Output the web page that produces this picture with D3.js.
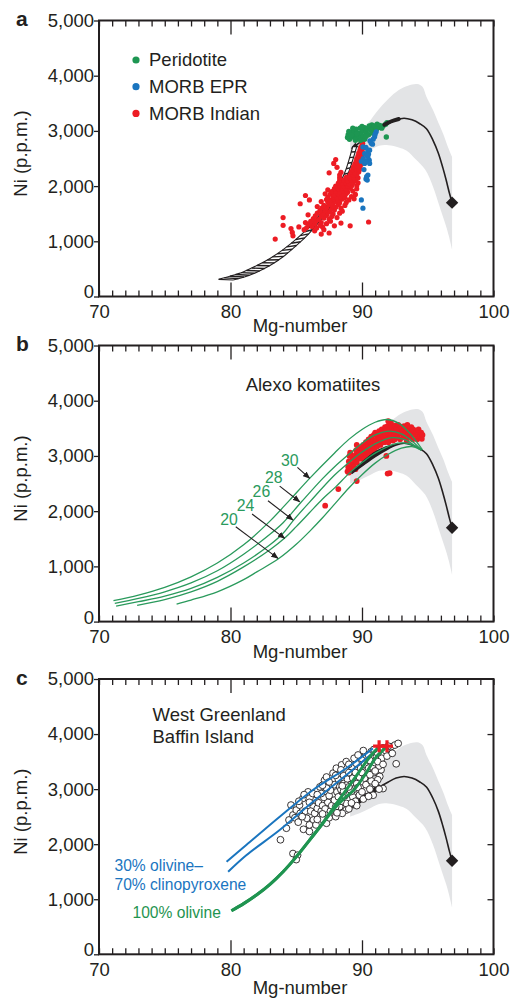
<!DOCTYPE html>
<html>
<head>
<meta charset="utf-8">
<script src="https://cdn.jsdelivr.net/npm/d3@7"></script>
<style>
  body { margin: 0; background: #fff; }
  text { font-family: "Liberation Sans", Arial, Helvetica, sans-serif; fill: #231f20; }
</style>
</head>
<body>
<svg id="fig" width="512" height="998"></svg>
<script>
// ---------- axis ticks ----------
const mgLabels = [70, 80, 90, 100];
const mgMinor = d3.range(70, 101);
const niTicks = [0, 1000, 2000, 3000, 4000, 5000];

// ---------- mantle olivine envelope (grey field) ----------
const envelopeUpper = [[89.1,2800],[89.8,2960],[90.5,3150],[91.2,3370],[92.0,3580],[92.8,3740],[93.5,3820],[94.2,3850],[94.6,3800],[94.9,3620],[95.4,3380],[95.8,3150],[96.2,2930],[96.55,2700],[96.85,2530]];
const envelopeLower = [[96.85,850],[96.6,1100],[96.4,1270],[96.15,1450],[95.9,1630],[95.4,1990],[94.8,2300],[94.1,2480],[93.4,2640],[92.8,2700],[92.0,2740],[91.3,2730],[90.5,2640],[89.8,2560],[89.1,2500]];

// ---------- olivine trend and end member ----------
const olivineTrend = [[89.2,2680],[90,2820],[91,2990],[92,3130],[92.6,3200],[93.2,3230],[93.8,3200],[94.4,3130],[94.9,3040],[95.4,2830],[95.8,2600],[96.15,2330],[96.4,2110],[96.65,1870],[96.85,1700]];
const olivineEnd = [96.85, 1700];
const trendBoldA = [[91.7,3110],[92.2,3170],[92.8,3215]];
const trendLensUpper = [[89.1,2700],[89.8,2860],[90.5,3000],[91.2,3110],[92.0,3190],[92.8,3215]];
const trendLensLower = [[92.8,3215],[92.0,3130],[91.2,3020],[90.5,2900],[89.8,2780],[89.1,2690]];
const trendBoldC = [[89.2,2680],[90,2820],[90.7,2940],[91.4,3060]];

// ---------- panel a: MORB fractionation band ----------
const bandLeft = [[79.1,310],[80,370],[81,450],[82,560],[83,690],[84,850],[85,1040],[86,1260],[87,1550],[88,1900],[88.7,2250],[89.3,2720]];
const bandRight = [[80.2,300],[81,350],[82,440],[83,560],[84,720],[85,920],[86,1150],[87,1430],[88,1780],[88.9,2200],[89.6,2720]];
const bandCap = [[89.2,2705],[89.5,2785],[89.75,2705]];

const peridotite = [[88.9,2880],[88.95,2930],[89.05,2850],[89.15,2960],[89.25,2890],[89.35,2990],[89.45,2920],[89.55,3030],[89.6,2860],[89.7,2960],[89.8,2890],[89.85,3050],[89.95,2970],[90.05,3010],[90.1,2900],[90.2,3060],[90.3,2980],[90.4,3040],[90.5,2930],[90.55,3090],[90.65,3010],[90.75,3110],[90.85,3050],[90.95,3090],[91.05,3010],[91.15,3120],[91.25,3070],[91.35,3100],[91.5,3050],[91.6,3090],[91.8,3120],[91.9,3150],[91.85,2890],[89.5,2830],[89.9,2830],[90.2,2850],[89.3,3050],[89.0,2990],[90.0,3080],[91.1,3040],[89.6,2950],[90.3,2900],[90.8,2960],[89.2,2920]];

const morbEPR = [[89.95,1750],[90.07,1600],[90.3,2130],[90.45,2200],[90.4,2110],[90.35,2170],[90.2,2410],[90.55,2470],[90.45,2530],[90.58,2410],[90.3,2450],[90.1,2500],[90.2,2590],[90.07,2710],[90.3,2700],[90.45,2650],[90.58,2650],[90.7,2775],[90.6,2820],[90.96,2895],[90.85,2850],[91.08,2985],[91.0,2940],[90.8,2760],[90.5,2580],[90.35,2560],[89.95,2450],[90.15,2300]];

const morbIndian = [
  [83.4,1040],[84.0,1430],[84.0,1290],[84.6,1230],[84.7,1160],[84.75,1100],[85.3,1680],[85.7,1830],[86.0,1750],[85.7,1340],[85.6,1210],[85.9,1480],[86.4,1190],[86.6,1630],[87.1,1210],[87.5,1150],[87.9,1280],[89.1,1280],[90.5,1350],[87.5,2240],[87.85,2410],[88.1,2340],[85.2,1260],[86.9,1130],[88.4,1330],[89.7,2060],[88.0,2480],[90.05,2775],
  [85.8,1250],[86.2,1270],[86.55,1240],[87.0,1260],
  [85.95,1310],[86.4,1320],[86.8,1290],[87.3,1320],
  [86.1,1360],[86.5,1370],[86.9,1340],[87.6,1365],
  [86.3,1410],[86.7,1395],[87.1,1420],[87.5,1400],[88.1,1430],
  [86.45,1460],[86.9,1455],[87.3,1470],[87.7,1450],
  [86.6,1510],[87.0,1500],[87.4,1520],[87.8,1495],[88.3,1510],
  [86.8,1555],[87.2,1560],[87.55,1540],[87.9,1565],[88.5,1545],
  [86.95,1600],[87.3,1610],[87.7,1590],[88.0,1615],[88.4,1600],
  [87.1,1650],[87.5,1660],[87.8,1640],[88.2,1665],[88.7,1650],
  [86.9,1720],[87.4,1710],[87.7,1690],[88.0,1715],[88.3,1700],[88.8,1705],
  [87.3,1755],[87.6,1745],[87.9,1760],[88.2,1740],[88.5,1765],[89.0,1750],[89.4,1770],
  [87.4,1800],[87.8,1810],[88.1,1790],[88.4,1805],[88.7,1795],[89.2,1810],
  [87.2,1860],[87.6,1855],[87.9,1845],[88.2,1860],[88.5,1850],[88.8,1865],[89.5,1850],
  [87.7,1900],[88.0,1910],[88.3,1895],[88.6,1905],[88.9,1890],[89.3,1910],
  [87.4,1930],[87.9,1955],[88.2,1950],[88.5,1960],[88.8,1945],[89.1,1960],[89.6,1950],
  [88.0,2000],[88.3,2010],[88.6,1995],[88.9,2005],[89.2,2000],[89.6,2010],
  [88.2,2055],[88.5,2050],[88.8,2060],[89.0,2045],[89.3,2055],
  [88.3,2100],[88.6,2110],[88.9,2095],[89.2,2105],[89.5,2100],
  [88.3,2150],[88.8,2160],[89.1,2145],[89.4,2155],[89.7,2150],
  [88.3,2200],[89.1,2210],[89.35,2195],[89.6,2205],
  [88.4,2250],[89.2,2260],[89.45,2245],[89.75,2255],
  [89.3,2300],[89.55,2310],[89.8,2295],
  [89.35,2350],[89.6,2360],[89.85,2345],
  [89.45,2400],[89.7,2410],[89.95,2395],
  [89.55,2450],[89.85,2460],
  [89.6,2500],[89.9,2510],
  [89.7,2550],[90.0,2560],
  [89.75,2600],[90.05,2610],
  [89.85,2650],[89.9,2700],[90.1,2690],[90.0,2745]
];

// ---------- panel b: Alexo komatiites and melt curves ----------
const alexo = [
  [88.9,2720],[88.95,2800],[89.0,2900],[89.05,3000],[89.1,3060],[89.2,2760],[89.25,2850],[89.3,2950],[89.0,2700],[89.15,3030],
  [89.4,2800],[89.45,2920],[89.5,3010],[89.55,3100],[89.6,2880],[89.7,2980],[89.75,3080],[89.8,3150],[89.85,2950],[89.9,3050],[89.6,3200],[89.5,2760],
  [90.0,3000],[90.05,3120],[90.1,3200],[90.15,2940],[90.2,3060],[90.25,3150],[90.3,3250],[90.35,3010],[90.4,3100],[90.45,3200],[90.5,3300],[90.5,3050],
  [90.6,3150],[90.65,3250],[90.7,3350],[90.75,3080],[90.8,3180],[90.85,3280],[90.9,3380],[90.95,3130],[91.0,3230],[91.0,3420],[90.9,3030],
  [91.1,3300],[91.15,3170],[91.2,3380],[91.25,3250],[91.3,3450],[91.35,3320],[91.4,3200],[91.45,3400],[91.5,3480],[91.5,3280],
  [91.6,3350],[91.65,3440],[91.7,3250],[91.75,3520],[91.8,3380],[91.85,3460],[91.9,3300],[91.95,3540],[92.0,3400],[92.0,3250],
  [92.1,3480],[92.15,3340],[92.2,3600],[92.25,3420],[92.3,3520],[92.35,3280],[92.4,3460],[92.45,3380],[92.5,3550],[92.5,3300],
  [92.6,3440],[92.65,3500],[92.7,3340],[92.75,3560],[92.8,3420],[92.85,3480],[92.9,3300],[92.95,3530],[93.0,3400],
  [93.1,3460],[93.15,3340],[93.2,3540],[93.3,3420],[93.35,3500],[93.4,3280],[93.45,3560],[93.5,3380],
  [93.6,3460],[93.7,3350],[93.75,3520],[93.8,3420],[93.85,3300],[93.9,3480],[94.0,3380],
  [94.1,3440],[94.2,3300],[94.25,3400],[94.3,3480],[94.4,3350],[94.5,3420],[94.55,3310],[94.6,3380],
  [87.2,2100],[88.2,2400],[89.6,2545],[91.95,2680],[92.1,2690],[91.85,3000],[92.0,3630]
];
const curve30 = [[71.1,378],[73,480],[75,620],[77,810],[79,1060],[81,1390],[83,1820],[84.5,2200],[86,2590],[87.9,3050],[89,3300],[90,3480],[91,3610],[91.9,3660],[92.8,3590],[93.6,3420],[94.2,3240],[94.6,3110]];
const curve28 = [[71.2,330],[73,420],[75,540],[77,700],[79,920],[81,1220],[83,1580],[84,1790],[85.4,2170],[87,2590],[87.9,2800],[89,3030],[90,3230],[91,3380],[92.1,3450],[93,3400],[93.8,3270],[94.5,3110]];
const curve26 = [[71.3,282],[73,360],[75,460],[77,600],[79,800],[81,1060],[83,1390],[84,1600],[84.8,1839],[86,2160],[87.9,2650],[89,2880],[90,3070],[91,3220],[92.3,3330],[93.2,3300],[94,3190],[94.5,3100]];
const curve24 = [[72.9,295],[75,400],[77,540],[79,730],[81,990],[83,1300],[84.1,1508],[85,1720],[86,1970],[87,2220],[88,2440],[89,2680],[90,2880],[91,3050],[92.5,3220],[93.4,3230],[94.1,3170],[94.5,3110]];
const curve20 = [[75.9,318],[77,390],[79,540],[81,760],[82,900],[83.7,1146],[85,1400],[86,1630],[87,1880],[88,2150],[89,2420],[90,2660],[91,2870],[92,3030],[93,3140],[93.8,3170],[94.4,3120]];
const meltLabels = ["30", "28", "26", "24", "20"];
const meltLabelAt = [[84.5,2912],[83.29,2604],[82.35,2351],[81.14,2098],[79.89,1857]];
const meltArrowFrom = [[85.09,2793],[83.74,2454],[82.85,2188],[81.64,1948],[80.4,1718]];
const meltArrowTo = [[86.02,2594],[85.26,2170],[84.75,1839],[84.12,1508],[83.61,1146]];

// ---------- panel c: West Greenland / Baffin Island ----------
const greenland = [
  [83.8,2080],[84.25,2290],[84.45,2440],[84.75,2530],[85.0,2620],[84.6,2710],[85.25,2710],[85.5,2830],[84.9,2480],[85.55,2270],[86.0,2230],[84.75,1830],[85.1,1800],[85.0,1720],[85.9,2950],[85.3,2560],[85.7,2600],[85.15,2400],[85.8,2470],[85.45,2500],
  [86.25,2920],[86.8,3040],[87.15,3160],[87.3,3220],[87.8,3290],[88.05,3380],[88.45,3440],[88.8,3500],[89.2,3410],[89.55,3470],[89.95,3560],[90.3,3620],[90.7,3680],[91.1,3590],[91.45,3350],[91.35,3230],[91.2,3170],[90.85,2890],[91.6,3010],[92.2,3770],[92.5,3800],[92.75,3830],[92.6,3460],
  [86.3,2440],[86.8,2500],[87.3,2380],[87.8,2560],[88.3,2680],[88.8,2740],[89.3,2860],[89.8,2890],[90.3,2980],[86.3,2680],[86.5,2800],
  [86.1,2600],[86.4,2560],[86.6,2650],[86.9,2600],[86.7,2750],[87.0,2700],[87.2,2640],[87.4,2760],[87.1,2850],[86.9,2920],[87.5,2880],[87.6,2600],[87.7,2700],[87.9,2800],[87.6,2980],[87.3,3020],[87.9,3080],[88.1,2950],[88.2,2860],[88.0,2680],[88.4,2780],[88.5,2950],[88.3,3040],[88.6,3100],[88.2,3180],[88.6,3250],[88.9,3180],[88.7,2880],[88.9,3000],[89.1,3080],[89.0,3300],[89.3,3200],[89.4,3000],[89.6,3100],[89.5,3300],[89.8,3220],[89.9,3380],[89.7,3030],[90.1,3130],[90.0,3300],[90.2,3450],[90.4,3250],[90.5,3380],[90.3,3080],[90.6,3520],[90.8,3400],[90.9,3300],[90.7,3150],[91.0,3480],[91.2,3650],[91.3,3420],[90.5,3620],[90.9,3720],[91.6,3750],[92.0,3780],[91.5,3560],[91.8,3700],[89.2,2960],[88.8,2620],[89.5,2780],[90.0,2950],[90.6,3000],[86.0,2760],[86.6,2900],[87.0,3070],[87.5,3130],[88.0,3250],[88.4,3350],[89.0,3450],[89.4,3560],[89.7,3620],[90.1,3700],
  [88.4,2990],[88.7,3020],[88.9,2930],[89.1,2990],[88.6,2960],[88.8,3070],[89.0,3040],[88.5,3060],
  [85.2,2780],[85.6,2900],[86.0,2350],[86.5,2350],[87.0,2450],[87.5,2480],[88.0,2500],[88.5,2560],[89.0,2640],[89.6,2700],[90.1,2820],[90.5,2870],[91.0,3100],[91.3,3000],[90.2,3200],[90.6,3260],[91.0,3330],[91.2,3500],[91.6,3450],[91.9,3600],[92.3,3650],[89.2,2750],[88.1,2570],[87.0,2550],[86.6,2450]
];
const parentMelts = [[91.3,3780],[91.9,3780]];
const mixCurve1 = [[79.7,1680],[81.2,1985],[83.74,2500],[86.27,2985],[88.81,3380],[90.83,3740]];
const mixCurve2 = [[79.82,1500],[81.2,1800],[83.74,2257],[86.27,2772],[88.81,3256],[91.08,3710]];
const olivineCurve1 = [[80.07,792],[81,920],[82,1080],[83,1270],[84,1500],[85,1770],[86,2070],[87,2380],[88,2720],[88.8,2987],[89.7,3287],[90.6,3588],[91.25,3760]];
const olivineCurve2 = [[80.07,792],[81,920],[82,1080],[83,1270],[84,1500],[85,1770],[86,2070],[87,2370],[87.8,2620],[88.6,2820],[89.4,2990],[90.3,3287],[91.1,3588],[91.85,3760]];

// ---------- colours ----------
const C = {
  ink: "#231f20", grey: "#e3e4e6", green: "#1d9652", blue: "#1a75bf",
  red: "#ed1c24", curveGreen: "#2a9a5c", thickGreen: "#1f9450"
};

// ---------- layout ----------
const svg = d3.select("#fig");
const x = d3.scaleLinear().domain([70, 100]).range([99, 493.5]);
const panels = [
  { key: "a", top: 20.5, bottom: 296.5, titleOff: 35 },
  { key: "b", top: 345.5, bottom: 621.6, titleOff: 36.5 },
  { key: "c", top: 679, bottom: 954.3, titleOff: 39.5 }
];
panels.forEach(p => { p.y = d3.scaleLinear().domain([0, 5000]).range([p.bottom, p.top]); });

const smooth = d3.curveCatmullRom.alpha(0.5);
function lineFor(y, curve) {
  return d3.line().x(d => x(d[0])).y(d => y(d[1])).curve(curve || smooth);
}

// defs: arrow head
svg.append("defs").append("marker")
  .attr("id", "arrowHead").attr("viewBox", "0 0 10 8")
  .attr("refX", 9).attr("refY", 4)
  .attr("markerWidth", 7.5).attr("markerHeight", 6)
  .attr("markerUnits", "userSpaceOnUse").attr("orient", "auto")
  .append("path").attr("d", "M0,0 L10,4 L0,8 Z").attr("fill", C.ink);

function drawEnvelope(g, y) {
  const up = lineFor(y)(envelopeUpper);
  const lo = lineFor(y)(envelopeLower).replace(/^M/, "L");
  g.append("path").attr("d", up + lo + "Z").attr("fill", C.grey).attr("stroke", "none");
}
function drawTrend(g, y) {
  g.append("path").attr("d", lineFor(y)(olivineTrend))
    .attr("fill", "none").attr("stroke", C.ink).attr("stroke-width", 1.6);
}
function drawEnd(g, y) {
  const cx = x(olivineEnd[0]), cy = y(olivineEnd[1]), h = 6.2;
  g.append("path")
    .attr("d", `M${cx},${cy - h}L${cx + h},${cy}L${cx},${cy + h}L${cx - h},${cy}Z`)
    .attr("fill", C.ink);
}
function dots(g, y, data, color, r) {
  g.append("g").selectAll("circle").data(data).join("circle")
    .attr("cx", d => x(d[0])).attr("cy", d => y(d[1])).attr("r", r).attr("fill", color);
}

function drawAxes(g, p) {
  const y = p.y;
  const fmt = d3.format(",");
  // bottom
  const gb = g.append("g").attr("transform", `translate(0,${p.bottom})`)
    .call(d3.axisBottom(x).tickValues(mgMinor).tickSizeInner(-6).tickSizeOuter(0).tickPadding(8.5)
      .tickFormat(d => mgLabels.includes(d) ? d : ""));
  gb.selectAll(".tick line").attr("y2", d => (d === 80 || d === 90) ? -14 : -6);
  // top
  const gt = g.append("g").attr("transform", `translate(0,${p.top})`)
    .call(d3.axisTop(x).tickValues(mgMinor).tickSizeInner(-6).tickSizeOuter(0).tickFormat(""));
  gt.selectAll(".tick line").attr("y2", d => (d === 80 || d === 90) ? 14 : 6);
  // left
  const gl = g.append("g").attr("transform", `translate(${x(70)},0)`)
    .call(d3.axisLeft(y).tickValues(niTicks).tickSizeInner(5).tickSizeOuter(0).tickPadding(0).tickFormat(fmt));
  // the zero label sits a little higher, clear of the "70" below it
  gl.selectAll(".tick text").filter(d => d === 0).attr("y", -4.5);
  // right
  g.append("g").attr("transform", `translate(${x(100)},0)`)
    .call(d3.axisRight(y).tickValues(niTicks.slice(1, -1)).tickSizeInner(-6).tickSizeOuter(0).tickFormat(""));

  g.selectAll(".domain").remove();
  g.selectAll(".tick line").attr("stroke", C.ink).attr("stroke-width", 1.3);
  g.selectAll(".tick text").attr("font-size", 18.5).attr("fill", C.ink)
    .attr("font-family", '"Liberation Sans", Arial, sans-serif');

  // frame
  g.append("rect").attr("x", x(70)).attr("y", p.top)
    .attr("width", x(100) - x(70)).attr("height", p.bottom - p.top)
    .attr("fill", "none").attr("stroke", C.ink).attr("stroke-width", 2);

  // titles
  g.append("text").attr("transform", `translate(27,${(p.top + p.bottom) / 2 - 5}) rotate(-90)`)
    .attr("text-anchor", "middle").attr("font-size", 18.5).text("Ni (p.p.m.)");
  g.append("text").attr("x", 300).attr("y", p.bottom + p.titleOff)
    .attr("text-anchor", "middle").attr("font-size", 18.5).text("Mg-number");
  g.append("text").attr("x", 16).attr("y", p.top + 5.5)
    .attr("font-size", 21).attr("font-weight", "bold").text(p.key);
}

// ================= panel a =================
(function () {
  const p = panels[0], y = p.y, g = svg.append("g");
  drawEnvelope(g, y);
  drawTrend(g, y);

  // hatched fractionation band
  const band = g.append("g");
  const lp = lineFor(y)(bandLeft), rp = lineFor(y)(bandRight);
  band.append("path").attr("d", lp + lineFor(y)(bandRight.slice().reverse()).replace(/^M/, "L") + "Z")
    .attr("fill", "#fff").attr("stroke", "none");
  const hl = band.append("path").attr("d", lp).attr("fill", "none").attr("stroke", C.ink).attr("stroke-width", 1.1);
  const hr = band.append("path").attr("d", rp).attr("fill", "none").attr("stroke", C.ink).attr("stroke-width", 1.1);
  const Ll = hl.node().getTotalLength(), Lr = hr.node().getTotalLength();
  const n = 34;
  d3.range(1, n).forEach(i => {
    const a = hl.node().getPointAtLength(Ll * i / n);
    const b = hr.node().getPointAtLength(Lr * i / n);
    band.append("line").attr("x1", a.x).attr("y1", a.y).attr("x2", b.x).attr("y2", b.y)
      .attr("stroke", C.ink).attr("stroke-width", 1.4);
  });
  band.append("path").attr("d", d3.line().x(d => x(d[0])).y(d => y(d[1]))(bandCap) + "Z").attr("fill", C.ink);
  band.append("line").attr("x1", x(bandLeft[0][0])).attr("y1", y(bandLeft[0][1]))
    .attr("x2", x(bandRight[0][0])).attr("y2", y(bandRight[0][1])).attr("stroke", C.ink).attr("stroke-width", 1.1);

  dots(g, y, morbIndian, C.red, 2.6);
  dots(g, y, peridotite, C.green, 2.7);
  dots(g, y, morbEPR, C.blue, 2.6);
  g.append("path").attr("d", lineFor(y)(trendBoldA)).attr("fill", "none")
    .attr("stroke", C.ink).attr("stroke-width", 4).attr("stroke-linecap", "round");
  drawEnd(g, y);

  // legend
  const legend = [["Peridotite", C.green], ["MORB EPR", C.blue], ["MORB Indian", C.red]];
  legend.forEach((d, i) => {
    const cy = 60 + i * 26.7;
    g.append("circle").attr("cx", 136).attr("cy", cy).attr("r", 3.6).attr("fill", d[1]);
    g.append("text").attr("x", 149).attr("y", cy + 6.3).attr("font-size", 18.5).text(d[0]);
  });
  drawAxes(g, p);
})();

// ================= panel b =================
(function () {
  const p = panels[1], y = p.y, g = svg.append("g");
  drawEnvelope(g, y);
  dots(g, y, alexo, C.red, 2.9);
  drawTrend(g, y);
  g.append("path")
    .attr("d", lineFor(y)(trendLensUpper) + lineFor(y)(trendLensLower).replace(/^M/, "L") + "Z")
    .attr("fill", C.ink);
  [curve30, curve28, curve26, curve24, curve20].forEach(c => {
    g.append("path").attr("d", lineFor(y)(c)).attr("fill", "none")
      .attr("stroke", C.curveGreen).attr("stroke-width", 1.3);
  });
  drawEnd(g, y);
  meltLabels.forEach((t, i) => {
    g.append("line")
      .attr("x1", x(meltArrowFrom[i][0])).attr("y1", y(meltArrowFrom[i][1]))
      .attr("x2", x(meltArrowTo[i][0])).attr("y2", y(meltArrowTo[i][1]))
      .attr("stroke", C.ink).attr("stroke-width", 1.1).attr("marker-end", "url(#arrowHead)");
    g.append("text").attr("x", x(meltLabelAt[i][0])).attr("y", y(meltLabelAt[i][1]) + 5.5)
      .attr("text-anchor", "middle").attr("font-size", 15.8).style("fill", C.curveGreen).text(t);
  });
  g.append("text").attr("x", 313).attr("y", 391).attr("text-anchor", "middle")
    .attr("font-size", 18.5).text("Alexo komatiites");
  drawAxes(g, p);
})();

// ================= panel c =================
(function () {
  const p = panels[2], y = p.y, g = svg.append("g");
  drawEnvelope(g, y);
  drawTrend(g, y);
  g.append("path").attr("d", lineFor(y)(trendBoldC)).attr("fill", "none")
    .attr("stroke", C.ink).attr("stroke-width", 5);
  drawEnd(g, y);
  g.append("g").selectAll("circle").data(greenland).join("circle")
    .attr("cx", d => x(d[0])).attr("cy", d => y(d[1])).attr("r", 3.4)
    .attr("fill", "#fff").attr("stroke", C.ink).attr("stroke-width", 0.9);
  [mixCurve1, mixCurve2].forEach(c => {
    g.append("path").attr("d", lineFor(y)(c)).attr("fill", "none")
      .attr("stroke", C.blue).attr("stroke-width", 2);
  });
  [olivineCurve1, olivineCurve2].forEach(c => {
    g.append("path").attr("d", lineFor(y)(c)).attr("fill", "none")
      .attr("stroke", C.thickGreen).attr("stroke-width", 3);
  });
  parentMelts.forEach(d => {
    const cx = x(d[0]), cy = y(d[1]), h = 6;
    g.append("path").attr("d", `M${cx - h},${cy}H${cx + h}M${cx},${cy - h}V${cy + h}`)
      .attr("stroke", C.red).attr("stroke-width", 3.2);
  });
  g.append("text").attr("x", 152.5).attr("y", 721).attr("font-size", 18.5).text("West Greenland");
  g.append("text").attr("x", 152.5).attr("y", 743).attr("font-size", 18.5).text("Baffin Island");
  g.append("text").attr("x", 114.5).attr("y", 871).attr("font-size", 15.6).style("fill", C.blue).text("30% olivine–");
  g.append("text").attr("x", 114.5).attr("y", 889.5).attr("font-size", 15.6).style("fill", C.blue).text("70% clinopyroxene");
  g.append("text").attr("x", 132.5).attr("y", 918).attr("font-size", 15.6).style("fill", C.thickGreen).text("100% olivine");
  drawAxes(g, p);
})();
</script>
</body>
</html>
